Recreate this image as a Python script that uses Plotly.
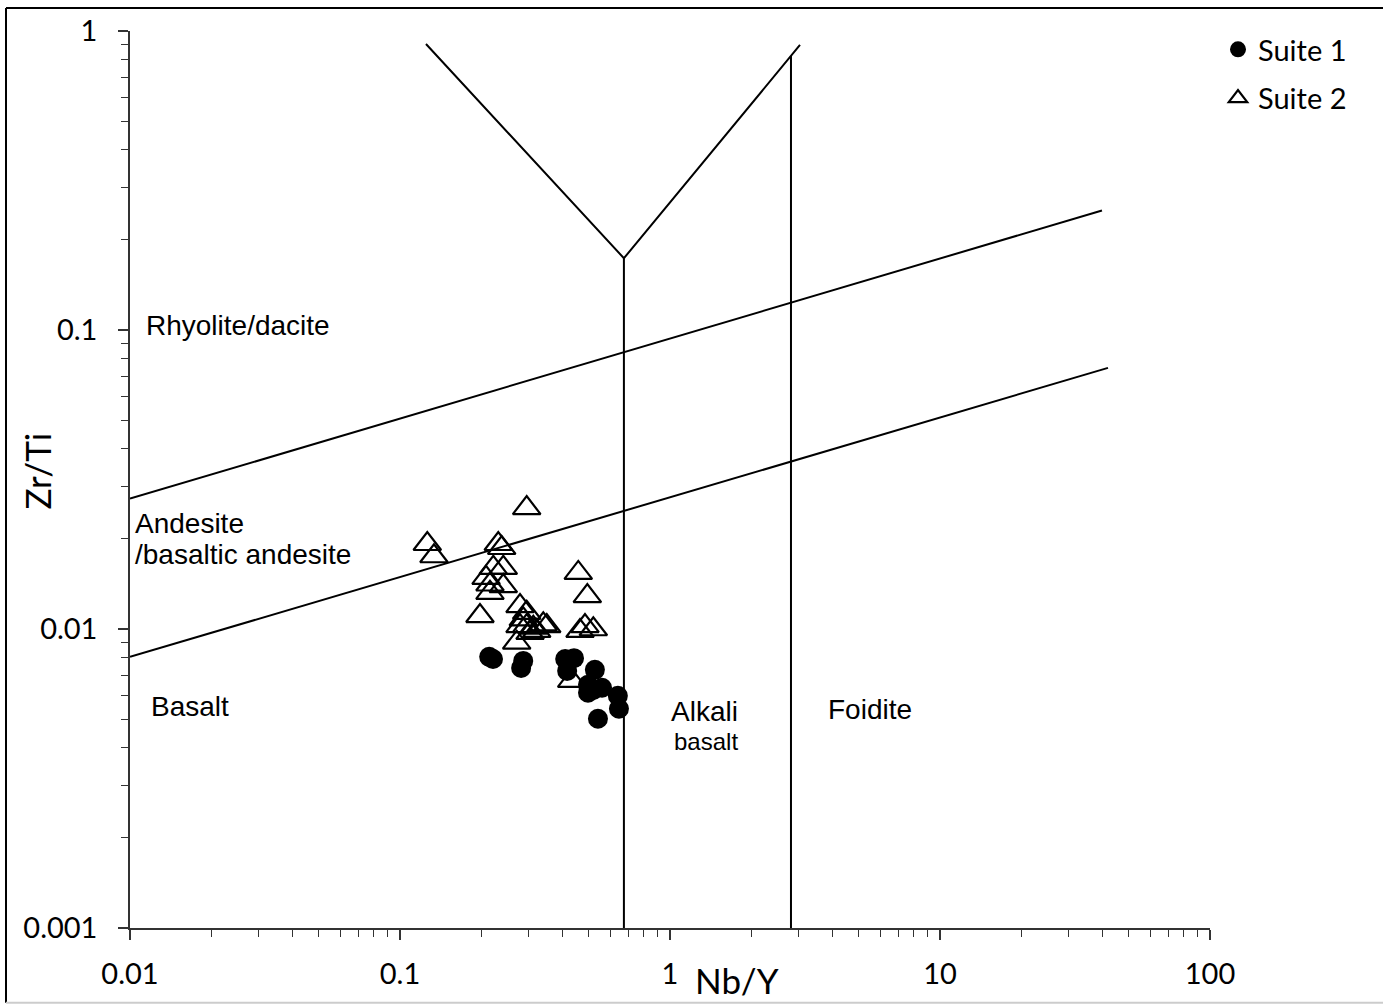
import plotly.graph_objects as go

# ---------------- data ----------------
suite1_nb_y = [0.214, 0.221, 0.286, 0.281, 0.409, 0.441, 0.416, 0.527, 0.497,
               0.560, 0.497, 0.641, 0.647, 0.541, 0.520]
suite1_zr_ti = [0.00807, 0.00794, 0.00782, 0.00741, 0.00794, 0.00799, 0.00724,
                0.00730, 0.00651, 0.00636, 0.00612, 0.00598, 0.00541, 0.00501, 0.00625]

suite2_nb_y = [0.2946, 0.1262, 0.1336, 0.2312, 0.2380, 0.2216, 0.2413, 0.2083,
               0.2154, 0.2154, 0.2413, 0.1978, 0.4574, 0.4941, 0.2783, 0.2946,
               0.2862, 0.2783, 0.2946, 0.3117, 0.3394, 0.3496, 0.3209, 0.2705,
               0.4843, 0.5200, 0.4642, 0.4325, 0.3031]
suite2_zr_ti = [0.02536, 0.01924, 0.01751, 0.01924, 0.01866, 0.01601, 0.01601,
                0.01483, 0.01409, 0.01321, 0.01391, 0.01105, 0.01540, 0.01288,
                0.01193, 0.01133, 0.01077, 0.01023, 0.01023, 0.01010, 0.01037,
                0.01023, 0.00985, 0.00900, 0.01023, 0.00998, 0.00985, 0.00671,
                0.00970]

# field boundaries (Nb/Y, Zr/Ti)
upper_line_x = [0.01, 39.8]
upper_line_y = [0.0273, 0.251]
lower_line_x = [0.01, 41.9]
lower_line_y = [0.00807, 0.0747]
v_line_x = [0.1248, 0.675, 3.03]
v_line_y = [0.905, 0.1738, 0.898]
alkali_line_x = [0.675, 0.675]
alkali_line_y = [0.001, 0.1738]
foidite_line_x = [2.806, 2.806]
foidite_line_y = [0.001, 0.825]

x_tick_vals = [0.01, 0.1, 1, 10, 100]
x_tick_text = ["0.01", "0.1", "1", "10", "100"]
y_tick_vals = [0.001, 0.01, 0.1, 1]
y_tick_text = ["0.001", "0.01", "0.1", "1"]

# ---------------- figure ----------------
W, H = 1383, 1005
L, R, T, B = 130, 1210, 28, 928


def px(x):
    return (x - L) / (R - L)


def py(y):
    return (B - y) / (B - T)


fig = go.Figure()

line_style = dict(color="black", width=2)
for xs, ys in [(upper_line_x, upper_line_y), (lower_line_x, lower_line_y),
               (v_line_x, v_line_y), (alkali_line_x, alkali_line_y),
               (foidite_line_x, foidite_line_y)]:
    fig.add_trace(go.Scatter(x=xs, y=ys, mode="lines", line=line_style,
                             showlegend=False, hoverinfo="skip", cliponaxis=False))

fig.add_trace(go.Scatter(
    x=suite1_nb_y, y=suite1_zr_ti, mode="markers", name="Suite 1",
    legendgroup="s1",
    marker=dict(symbol="circle", size=20, color="black", line=dict(width=0))))

fig.add_trace(go.Scatter(
    x=suite2_nb_y, y=suite2_zr_ti, mode="markers", name="Suite 2",
    legendgroup="s2",
    marker=dict(symbol="triangle-up-open", size=24, color="black",
                line=dict(width=2.2, color="black"))))

tick_font = dict(family="Lato", size=29, color="black")

fig.update_xaxes(
    type="log", range=[-2, 2],
    tickvals=x_tick_vals, ticktext=x_tick_text,
    ticks="outside", ticklen=10, tickwidth=1.5, tickcolor="#333",
    minor=dict(ticks="outside", ticklen=7, tickwidth=1.2, tickcolor="#333", dtick="D1"),
    showline=True, linecolor="#333", linewidth=1.5, mirror=False,
    showgrid=False, zeroline=False, tickfont=tick_font,
    ticklabelstandoff=9,
)
fig.update_yaxes(
    type="log", range=[-3, 0],
    tickvals=y_tick_vals, ticktext=y_tick_text,
    ticks="outside", ticklen=10, tickwidth=1.5, tickcolor="#333",
    minor=dict(ticks="outside", ticklen=7, tickwidth=1.2, tickcolor="#333", dtick="D1"),
    showline=True, linecolor="#333", linewidth=1.5, mirror=False,
    showgrid=False, zeroline=False, tickfont=tick_font,
    ticklabelstandoff=15,
)

label_font = dict(family="Liberation Sans, Arial", size=28, color="black")
annotations = [
    dict(text="Rhyolite/dacite", x=px(144), y=py(323), xanchor="left", yanchor="middle", font=label_font),
    dict(text="Andesite", x=px(133), y=py(522), xanchor="left", yanchor="middle", font=label_font),
    dict(text="/basaltic andesite", x=px(133), y=py(553), xanchor="left", yanchor="middle", font=label_font),
    dict(text="Basalt", x=px(149), y=py(706), xanchor="left", yanchor="middle", font=label_font),
    dict(text="Alkali", x=px(704), y=py(711), xanchor="center", yanchor="middle", font=label_font),
    dict(text="basalt", x=px(706), y=py(741), xanchor="center", yanchor="middle",
         font=dict(family="Liberation Sans, Arial", size=24, color="black")),
    dict(text="Foidite", x=px(870), y=py(709), xanchor="center", yanchor="middle", font=label_font),
    dict(text="Nb/Y", x=px(737), y=py(980), xanchor="center", yanchor="middle",
         font=dict(family="Lato", size=35, color="black")),
    dict(text="Zr/Ti", x=px(37), y=py(470), xanchor="center", yanchor="middle", textangle=-90,
         font=dict(family="Lato", size=35, color="black")),
]
for a in annotations:
    a.update(xref="paper", yref="paper", showarrow=False)

shapes = [
    # outer frame (top, left, bottom)
    dict(type="line", xref="paper", yref="paper", x0=px(6), x1=px(W + 5), y0=py(5), y1=py(5),
         line=dict(color="black", width=2)),
    dict(type="line", xref="paper", yref="paper", x0=px(6), x1=px(6), y0=py(5), y1=py(1003),
         line=dict(color="black", width=2)),
    dict(type="line", xref="paper", yref="paper", x0=px(6), x1=px(W + 5), y0=py(1003), y1=py(1003),
         line=dict(color="#cccccc", width=2)),
]

fig.update_layout(
    width=W, height=H,
    margin=dict(l=L, r=W - R, t=T, b=H - B),
    paper_bgcolor="white", plot_bgcolor="white",
    showlegend=True,
    legend=dict(x=px(1218), y=py(21), xanchor="left", yanchor="top",
                font=dict(family="Lato", size=29, color="black"),
                bgcolor="rgba(0,0,0,0)", itemsizing="trace", tracegroupgap=8,
                itemwidth=30),
    annotations=annotations,
    shapes=shapes,
)

fig.write_html("out.html", config={"displayModeBar": False},
               post_script="document.body.style.margin='0px';document.body.style.overflow='hidden';")
